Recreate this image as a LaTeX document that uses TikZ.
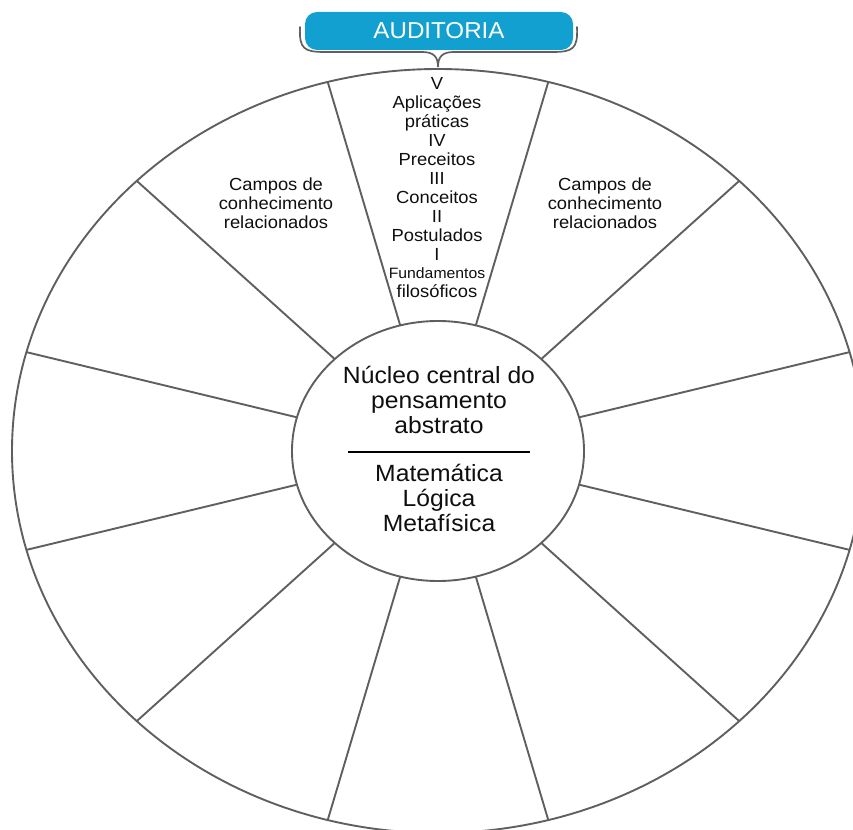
\documentclass[tikz,border=0pt]{standalone}
\usepackage{fontspec}
\setmainfont[FakeStretch=1.05]{Liberation Sans}
\usetikzlibrary{calc}
\definecolor{linegray}{RGB}{95,95,95}
\definecolor{audblue}{RGB}{18,160,208}
\definecolor{txt}{RGB}{15,15,15}
\tikzset{
  wheel/.style={draw=linegray, line width=1.9pt},
  sectortext/.style={align=center, inner sep=0pt, text=txt, font=\fontsize{17.5}{18.9}\selectfont},
  coretext/.style={align=center, inner sep=0pt, text=txt, font=\fontsize{23.5}{25}\selectfont},
  titlebox/.style={fill=audblue, rounded corners=12pt, inner sep=0pt, minimum width=268pt, minimum height=38pt, text=white, font=\fontsize{23}{24}\selectfont}
}
\begin{document}
\begin{tikzpicture}[x=1pt,y=-1pt]
\useasboundingbox (0,0) rectangle (853,829);
\begin{scope}
\clip (0,0) rectangle (853,829);
% outer and inner ellipses
\coordinate (c) at (438,451);
\draw[wheel] (c) ellipse [x radius=426, y radius=382];
\draw[wheel] (c) ellipse [x radius=146, y radius=130];
% spokes
\foreach \a in {15,45,...,345}{
  \coordinate (in\a) at ($(c)+({146*cos(\a)},{-130*sin(\a)})$);
  \coordinate (out\a) at ($(c)+({426*cos(\a)},{-382*sin(\a)})$);
  \draw[wheel] (in\a) -- (out\a);
}
\end{scope}
% divider in core
\coordinate (dl) at (348,452);
\coordinate (dr) at (530,452);
\draw[black, line width=1.1pt] (dl) -- (dr);
% brace and title
\coordinate (bl) at (300,27);
\coordinate (br) at (577,27);
\coordinate (tip) at (438,67);
\draw[linegray, line width=1.7pt, line cap=round]
  (bl) .. controls (299,49) and (304,52) .. (325,52) -- (422,52)
  .. controls (433,52) and (438,56) .. (tip)
  .. controls (438,56) and (443,52) .. (454,52) -- (552,52)
  .. controls (573,52) and (578,49) .. (br);
\node[titlebox] (aud) at (439,31) {AUDITORIA};
% texts
\node[sectortext] (stack) at (437,188) {V\\Aplicações\\práticas\\IV\\Preceitos\\III\\Conceitos\\II\\Postulados\\I\\{\fontsize{15}{18.9}\selectfont Fundamentos}\\filosóficos};
\node[sectortext] (leftf) at (276,203) {Campos de\\conhecimento\\relacionados};
\node[sectortext] (rightf) at (605,203) {Campos de\\conhecimento\\relacionados};
\node[coretext] (coretop) at (439,400) {Núcleo central do\\pensamento\\abstrato};
\node[coretext] (corebot) at (439,498) {Matemática\\Lógica\\Metafísica};
\end{tikzpicture}
\end{document}
